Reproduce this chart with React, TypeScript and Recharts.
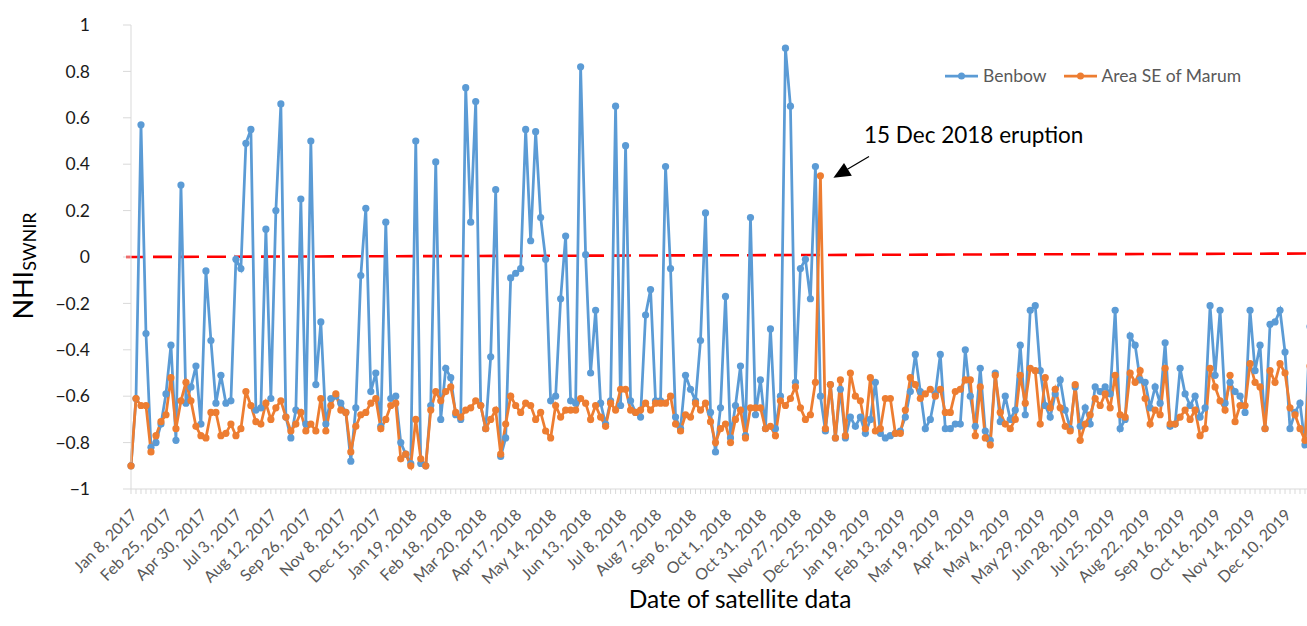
import React from "react";
import { LineChart, Line, XAxis, YAxis, Legend, ReferenceLine, ReferenceDot, Label } from "recharts";

// one label every 7th acquisition
const tickDates = [
  "Jan 8, 2017", "Feb 25, 2017", "Apr 30, 2017", "Jul 3, 2017", "Aug 12, 2017", "Sep 26, 2017",
  "Nov 8, 2017", "Dec 15, 2017", "Jan 19, 2018", "Feb 18, 2018", "Mar 20, 2018", "Apr 17, 2018",
  "May 14, 2018", "Jun 13, 2018", "Jul 8, 2018", "Aug 7, 2018", "Sep 6, 2018", "Oct 1, 2018",
  "Oct 31, 2018", "Nov 27, 2018", "Dec 25, 2018", "Jan 19, 2019", "Feb 13, 2019", "Mar 19, 2019",
  "Apr 4, 2019", "May 4, 2019", "May 29, 2019", "Jun 28, 2019", "Jul 25, 2019", "Aug 22, 2019",
  "Sep 16, 2019", "Oct 16, 2019", "Nov 14, 2019", "Dec 10, 2019",
];
const labelEvery = 7;

const benbow = [
  -0.9, -0.61, 0.57, -0.33, -0.82, -0.8, -0.72, -0.59, -0.38, -0.79,
  0.31, -0.63, -0.56, -0.47, -0.72, -0.06, -0.36, -0.63, -0.51, -0.63,
  -0.62, -0.01, -0.05, 0.49, 0.55, -0.66, -0.65, 0.12, -0.61, 0.2,
  0.66, -0.69, -0.78, -0.66, 0.25, -0.72, 0.5, -0.55, -0.28, -0.72,
  -0.61, -0.6, -0.63, -0.67, -0.88, -0.65, -0.08, 0.21, -0.58, -0.5,
  -0.73, 0.15, -0.61, -0.6, -0.8, -0.85, -0.89, 0.5, -0.89, -0.9,
  -0.64, 0.41, -0.7, -0.48, -0.52, -0.68, -0.7, 0.73, 0.15, 0.67,
  -0.64, -0.74, -0.43, 0.29, -0.86, -0.78, -0.09, -0.07, -0.05, 0.55,
  0.07, 0.54, 0.17, -0.01, -0.62, -0.6, -0.18, 0.09, -0.62, -0.63,
  0.82, 0.01, -0.5, -0.23, -0.63, -0.72, -0.62, 0.65, -0.64, 0.48,
  -0.62, -0.67, -0.69, -0.25, -0.14, -0.62, -0.62, 0.39, -0.05, -0.69,
  -0.74, -0.51, -0.57, -0.62, -0.36, 0.19, -0.67, -0.84, -0.65, -0.17,
  -0.78, -0.64, -0.47, -0.77, 0.17, -0.68, -0.53, -0.74, -0.31, -0.74,
  -0.6, 0.9, 0.65, -0.54, -0.05, -0.01, -0.18, 0.39, -0.6, -0.75,
  -0.55, -0.78, -0.57, -0.78, -0.69, -0.73, -0.69, -0.76, -0.7, -0.54,
  -0.76, -0.78, -0.77, -0.76, -0.75, -0.69, -0.58, -0.42, -0.58, -0.74,
  -0.7, -0.59, -0.42, -0.74, -0.74, -0.72, -0.72, -0.4, -0.6, -0.73,
  -0.48, -0.75, -0.79, -0.5, -0.71, -0.6, -0.7, -0.66, -0.38, -0.68,
  -0.23, -0.21, -0.49, -0.64, -0.69, -0.59, -0.53, -0.66, -0.74, -0.56,
  -0.73, -0.65, -0.72, -0.56, -0.58, -0.56, -0.59, -0.23, -0.74, -0.7,
  -0.34, -0.38, -0.53, -0.54, -0.65, -0.56, -0.63, -0.37, -0.73, -0.72,
  -0.48, -0.59, -0.64, -0.6, -0.69, -0.65, -0.21, -0.51, -0.23, -0.63,
  -0.54, -0.58, -0.6, -0.67, -0.23, -0.49, -0.38, -0.74, -0.29, -0.28,
  -0.23, -0.41, -0.74, -0.67, -0.63, -0.81, -0.3,
];

const marum = [
  -0.9, -0.61, -0.64, -0.64, -0.84, -0.77, -0.71, -0.68, -0.52, -0.74,
  -0.62, -0.54, -0.62, -0.73, -0.77, -0.78, -0.67, -0.67, -0.77, -0.76,
  -0.72, -0.77, -0.74, -0.58, -0.64, -0.71, -0.72, -0.63, -0.7, -0.65,
  -0.62, -0.69, -0.75, -0.72, -0.67, -0.75, -0.72, -0.75, -0.61, -0.75,
  -0.64, -0.59, -0.66, -0.67, -0.84, -0.73, -0.68, -0.67, -0.63, -0.61,
  -0.74, -0.7, -0.64, -0.63, -0.87, -0.85, -0.9, -0.7, -0.87, -0.9,
  -0.66, -0.58, -0.62, -0.58, -0.56, -0.67, -0.69, -0.66, -0.65, -0.62,
  -0.64, -0.74, -0.7, -0.66, -0.85, -0.72, -0.6, -0.64, -0.67, -0.63,
  -0.64, -0.7, -0.67, -0.75, -0.78, -0.64, -0.69, -0.66, -0.66, -0.66,
  -0.61, -0.63, -0.7, -0.64, -0.69, -0.73, -0.63, -0.66, -0.57, -0.57,
  -0.66, -0.67, -0.66, -0.63, -0.66, -0.63, -0.63, -0.63, -0.6, -0.72,
  -0.75, -0.68, -0.69, -0.63, -0.66, -0.63, -0.71, -0.8, -0.74, -0.72,
  -0.8, -0.7, -0.66, -0.78, -0.65, -0.65, -0.65, -0.74, -0.73, -0.77,
  -0.62, -0.64, -0.61, -0.56, -0.65, -0.7, -0.68, -0.54, 0.35, -0.74,
  -0.55, -0.78, -0.53, -0.77, -0.5, -0.6, -0.62, -0.74, -0.52, -0.75,
  -0.74, -0.61, -0.61, -0.76, -0.76, -0.66, -0.52, -0.55, -0.61, -0.59,
  -0.57, -0.6, -0.57, -0.67, -0.67, -0.58, -0.57, -0.53, -0.53, -0.77,
  -0.56, -0.78, -0.81, -0.51, -0.67, -0.72, -0.74, -0.7, -0.51, -0.63,
  -0.48, -0.49, -0.72, -0.52, -0.65, -0.57, -0.65, -0.73, -0.75, -0.55,
  -0.79, -0.72, -0.68, -0.61, -0.64, -0.59, -0.65, -0.51, -0.68, -0.69,
  -0.5, -0.54, -0.49, -0.61, -0.72, -0.66, -0.68, -0.48, -0.72, -0.72,
  -0.69, -0.66, -0.7, -0.66, -0.77, -0.74, -0.48, -0.56, -0.62, -0.66,
  -0.51, -0.71, -0.64, -0.64, -0.46, -0.54, -0.56, -0.74, -0.49, -0.54,
  -0.46, -0.5, -0.65, -0.68, -0.74, -0.79, -0.47,
];

const seriesList = [
  { key: "benbow", name: "Benbow", color: "#5B9BD5" },
  { key: "marum", name: "Area SE of Marum", color: "#ED7D31" },
];

const yTicks = [-1, -0.8, -0.6, -0.4, -0.2, 0, 0.2, 0.4, 0.6, 0.8, 1];
const eruptionIndex = 138;
const eruptionLabel = "15 Dec 2018 eruption";
const thresholdLine = [{ x: -1, y: 0 }, { x: 237, y: 0.015 }];

const data = benbow.map((v, i) => ({ i, benbow: v, marum: marum[i] }));
const xTicks = data.map((d) => d.i);
const lastIndex = data.length - 1;

const FONT = "Lato, 'Open Sans', sans-serif";
const AXIS_GREY = "#d9d9d9";

function DateTick({ x, y, payload }: any) {
  const idx = payload.value;
  if (idx % labelEvery !== 0) return <g />;
  const bx = x + 7;
  const by = y + 20;
  return (
    <text x={bx} y={by} transform={`rotate(-45, ${bx}, ${by})`} textAnchor="end" fontSize={16} fill="#595959" fontFamily={FONT}>
      {tickDates[idx / labelEvery]}
    </text>
  );
}

const fmtY = (v: number) => (v < 0 ? "\u2212" + String(Math.abs(v)) : String(v));

function YTitle() {
  return (
    <text x={33} y={266} transform="rotate(-90, 33, 266)" textAnchor="middle" fontFamily={FONT} fill="#000">
      <tspan fontSize={27}>NHI</tspan>
      <tspan fontSize={18} dy={3}>SWNIR</tspan>
    </text>
  );
}

function XTitle() {
  return (
    <text x={740} y={608} textAnchor="middle" fontSize={24.5} fontFamily={FONT} fill="#000">
      Date of satellite data
    </text>
  );
}

function LegendContent() {
  return (
    <div style={{ display: "flex", alignItems: "center", fontFamily: FONT, fontSize: 17.5, color: "#595959", whiteSpace: "nowrap" }}>
      {seriesList.map((s) => (
        <div key={s.key} style={{ display: "flex", alignItems: "center", marginRight: 17 }}>
          <svg width={33} height={10}>
            <line x1={0} y1={5} x2={33} y2={5} stroke={s.color} strokeWidth={2.75} />
            <circle cx={16.5} cy={5} r={3.5} fill={s.color} />
          </svg>
          <span style={{ marginLeft: 5 }}>{s.name}</span>
        </div>
      ))}
    </div>
  );
}

function EruptionNote({ cx, cy }: any) {
  if (cx == null || cy == null) return <g />;
  const tip = [cx + 13, cy + 2];
  const c1 = [cx + 31.4, cy];
  const c2 = [cx + 23.6, cy - 12.9];
  return (
    <g>
      <line x1={cx + 48.6} y1={cy - 19.3} x2={cx + 27} y2={cy - 6.5} stroke="#000" strokeWidth={1.3} />
      <polygon points={`${tip[0]},${tip[1]} ${c1[0]},${c1[1]} ${c2[0]},${c2[1]}`} fill="#000" />
      <text x={cx + 43.6} y={cy - 33} fontSize={22.5} fontFamily={FONT} fill="#000">
        {eruptionLabel}
      </text>
    </g>
  );
}

export default function App() {
  return (
    <div style={{ position: "absolute", left: 0, top: 0, width: 1307, height: 626, overflow: "hidden", background: "#fff" }}>
      <LineChart width={1320} height={626} data={data} margin={{ top: 25, right: 10, bottom: 0, left: 0 }} style={{ fontFamily: FONT }}>
        <XAxis
          type="number"
          dataKey="i"
          domain={[0, lastIndex]}
          ticks={xTicks}
          interval={0}
          tick={<DateTick />}
          tickSize={5}
          tickLine={{ stroke: AXIS_GREY }}
          axisLine={{ stroke: AXIS_GREY }}
          height={137}
        >
          <Label content={<XTitle />} />
        </XAxis>
        <YAxis
          type="number"
          domain={[-1, 1]}
          ticks={yTicks}
          tickFormatter={fmtY}
          width={131}
          tickSize={8}
          tickMargin={33}
          tick={{ fontSize: 17.5, fill: "#1a1a1a", fontFamily: FONT }}
          tickLine={{ stroke: AXIS_GREY }}
          axisLine={{ stroke: AXIS_GREY }}
        >
          <Label content={<YTitle />} />
        </YAxis>
        <Legend
          layout="horizontal"
          verticalAlign="middle"
          align="center"
          content={<LegendContent />}
          wrapperStyle={{ top: 65, left: 945, width: 360, height: 22 }}
        />
        <ReferenceLine segment={thresholdLine} stroke="#ff0000" strokeWidth={2.6} strokeDasharray="19 8" ifOverflow="visible" />
        {seriesList.map((s) => (
          <Line
            key={s.key}
            dataKey={s.key}
            name={s.name}
            stroke={s.color}
            strokeWidth={2.75}
            dot={{ r: 3.6, fill: s.color, stroke: s.color, strokeWidth: 0 }}
            activeDot={false}
            isAnimationActive={false}
          />
        ))}
        <ReferenceDot x={eruptionIndex} y={marum[eruptionIndex]} r={0} ifOverflow="visible" shape={<EruptionNote />} />
      </LineChart>
    </div>
  );
}
